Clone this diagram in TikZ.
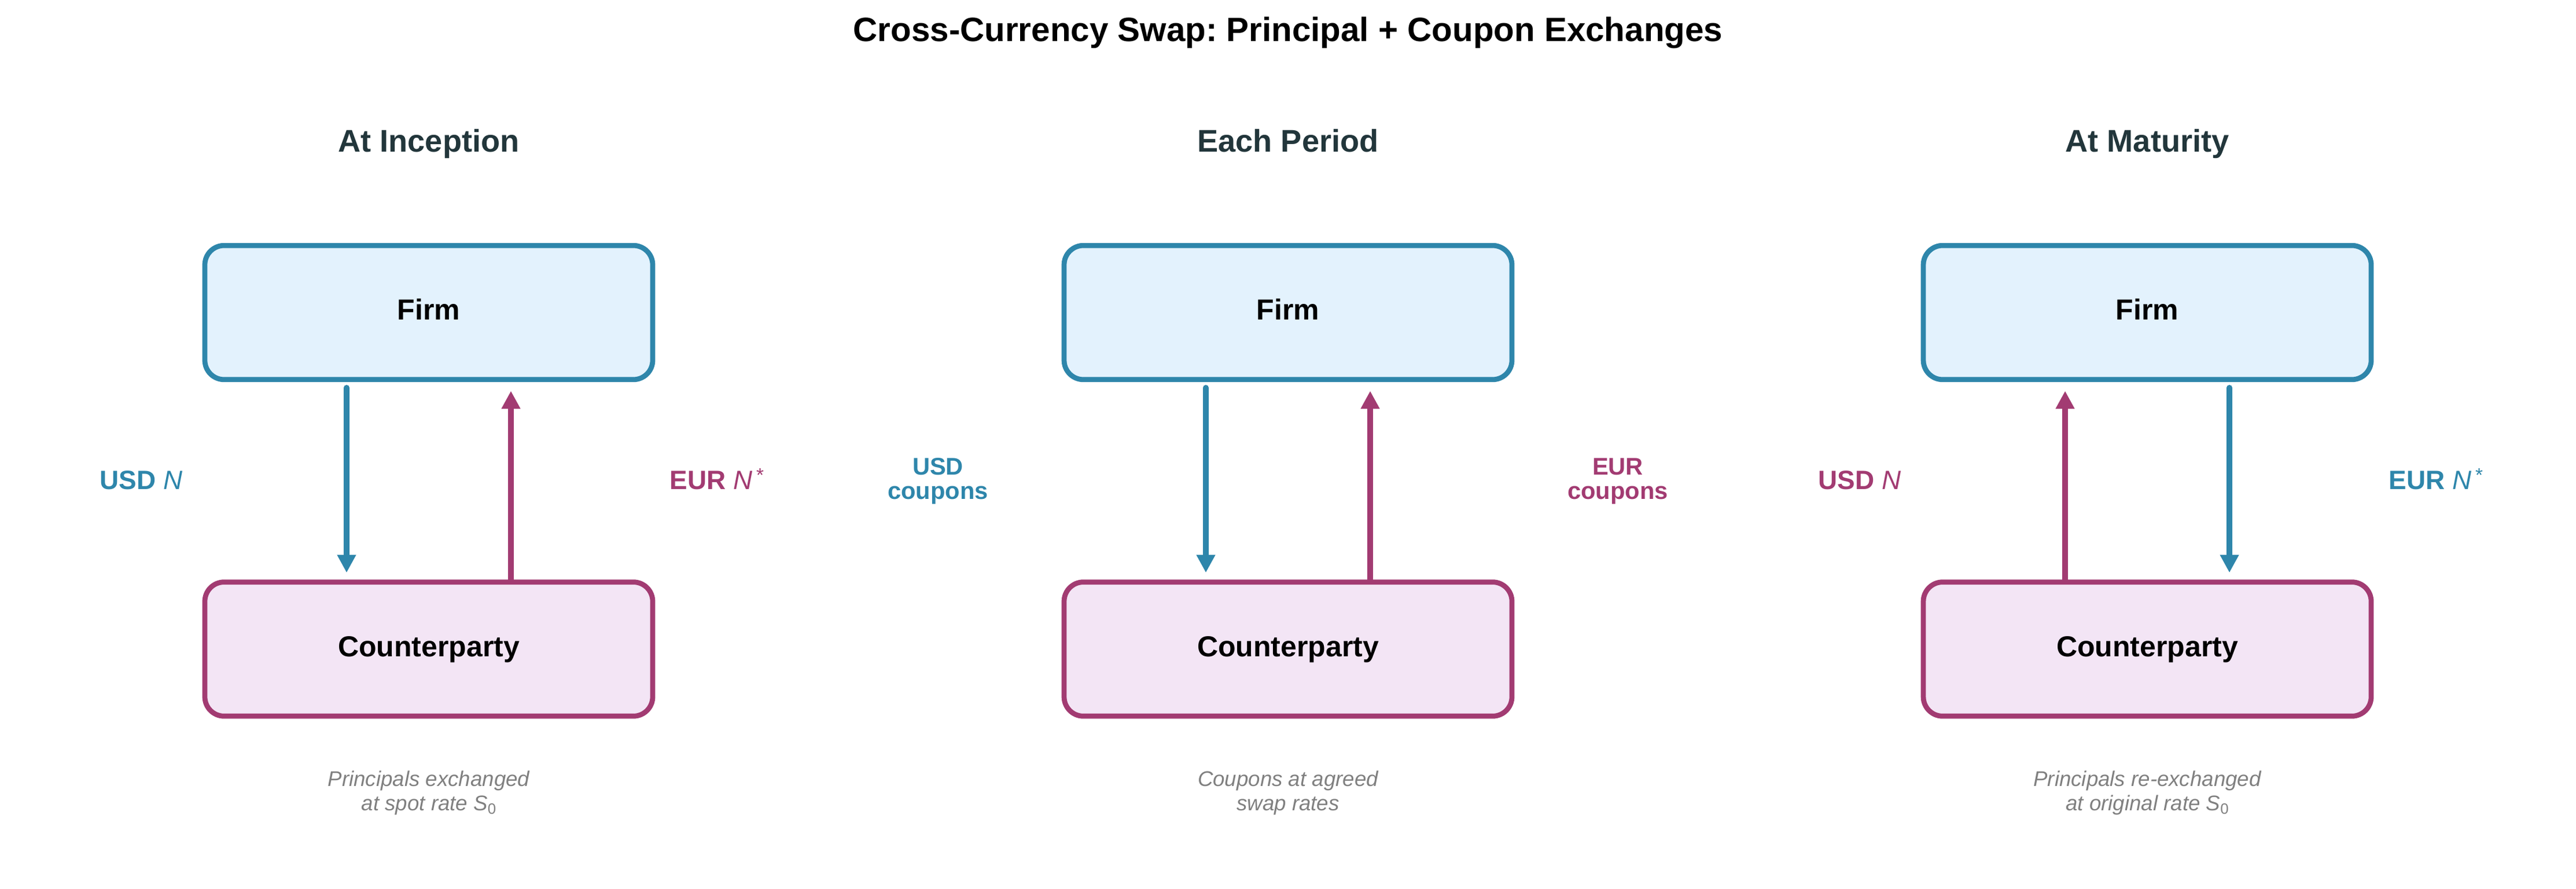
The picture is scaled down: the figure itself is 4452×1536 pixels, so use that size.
\documentclass[tikz,border=0pt]{standalone}
\usepackage{fontspec}
\setmainfont{Liberation Sans}
\usetikzlibrary{arrows.meta,calc}
\definecolor{cblue}{HTML}{2E86AB}
\definecolor{cmag}{HTML}{A23B72}
\definecolor{fblue}{HTML}{E3F2FD}
\definecolor{fmag}{HTML}{F3E5F5}
\definecolor{ttlcol}{HTML}{22363B}
\definecolor{capgray}{HTML}{808080}
\frenchspacing
\newcommand{\Nstar}{\textit{N}\hspace{1.6pt}\raisebox{3pt}{\fontsize{8}{8}\selectfont\mdseries *}}
\newcommand{\Szero}{\textit{S}\raisebox{-1.6pt}{\upshape\fontsize{6.2}{6.2}\selectfont 0}}
\begin{document}
\begin{tikzpicture}[x=0.24pt,y=-0.24pt,
  box/.style={rectangle, rounded corners=8pt, line width=2.1pt, minimum width=185.76pt,
    minimum height=55.6pt, inner sep=0pt, outer sep=0pt, text height=8.6pt, text depth=2.6pt,
    font=\fontsize{12}{14}\selectfont\bfseries},
  firmbox/.style={box, draw=cblue, fill=fblue},
  cpbox/.style={box, draw=cmag, fill=fmag},
  flow/.style={line width=2.4pt, line cap=round, -{Triangle[length=7.4pt,width=7.4pt]}},
  paneltitle/.style={anchor=base, inner sep=0pt, font=\fontsize{13}{15}\selectfont\bfseries, text=ttlcol},
  lab/.style={anchor=base, inner sep=0pt, font=\fontsize{11}{13}\selectfont},
  cplab/.style={anchor=base, inner sep=0pt, font=\fontsize{10}{10.1}\selectfont\bfseries},
  capt/.style={anchor=base, inner sep=0pt, font=\fontsize{8.8}{10.08}\selectfont\itshape, text=capgray}
]
\fill[white] (0,0) rectangle (4452,1536);
\useasboundingbox (0,0) rectangle (4452,1536);

\node[anchor=base, inner sep=0pt, font=\fontsize{14}{16}\selectfont\bfseries] (title) at (2226,72)
  {Cross-Currency Swap: Principal + Coupon Exchanges};

% ---------- Panel 1 ----------
\node[paneltitle] (t1) at (741,263) {At Inception};
\node[firmbox] (f1) at (741,540) {Firm};
\node[cpbox] (c1) at (741,1121.5) {Counterparty};
\draw[flow, cblue, shorten <=3.4pt, shorten >=3.9pt] ($(f1.south)+(-142,0)$) -- ($(c1.north)+(-142,0)$);
\draw[flow, cmag, shorten <=0.5pt, shorten >=4.7pt] ($(c1.north)+(142,0)$) -- ($(f1.south)+(142,0)$);
\node[lab, text=cblue] (u1) at (244,845) {{\bfseries USD} \textit{N}};
\node[lab, text=cmag] (e1) at (1239,845) {{\bfseries EUR} \Nstar};
\node[capt] (k1) at (741,1358) {\begin{tabular}[t]{@{}c@{}}Principals exchanged\\at spot rate \Szero\end{tabular}};

% ---------- Panel 2 ----------
\node[paneltitle] (t2) at (2226,263) {Each Period};
\node[firmbox] (f2) at (2226,540) {Firm};
\node[cpbox] (c2) at (2226,1121.5) {Counterparty};
\draw[flow, cblue, shorten <=3.4pt, shorten >=3.9pt] ($(f2.south)+(-142,0)$) -- ($(c2.north)+(-142,0)$);
\draw[flow, cmag, shorten <=0.5pt, shorten >=4.7pt] ($(c2.north)+(142,0)$) -- ($(f2.south)+(142,0)$);
\node[cplab, text=cblue] (u2) at (1621,820) {\begin{tabular}[t]{@{}c@{}}USD\\coupons\end{tabular}};
\node[cplab, text=cmag] (e2) at (2796,820) {\begin{tabular}[t]{@{}c@{}}EUR\\coupons\end{tabular}};
\node[capt] (k2) at (2226,1358) {\begin{tabular}[t]{@{}c@{}}Coupons at agreed\\swap rates\end{tabular}};

% ---------- Panel 3 ----------
\node[paneltitle] (t3) at (3711,263) {At Maturity};
\node[firmbox] (f3) at (3711,540) {Firm};
\node[cpbox] (c3) at (3711,1121.5) {Counterparty};
\draw[flow, cmag, shorten <=0.5pt, shorten >=4.7pt] ($(c3.north)+(-142,0)$) -- ($(f3.south)+(-142,0)$);
\draw[flow, cblue, shorten <=3.4pt, shorten >=3.9pt] ($(f3.south)+(142,0)$) -- ($(c3.north)+(142,0)$);
\node[lab, text=cmag] (u3) at (3214,845) {{\bfseries USD} \textit{N}};
\node[lab, text=cblue] (e3) at (4210,845) {{\bfseries EUR} \Nstar};
\node[capt] (k3) at (3711,1358) {\begin{tabular}[t]{@{}c@{}}Principals re-exchanged\\at original rate \Szero\end{tabular}};
\end{tikzpicture}
\end{document}
